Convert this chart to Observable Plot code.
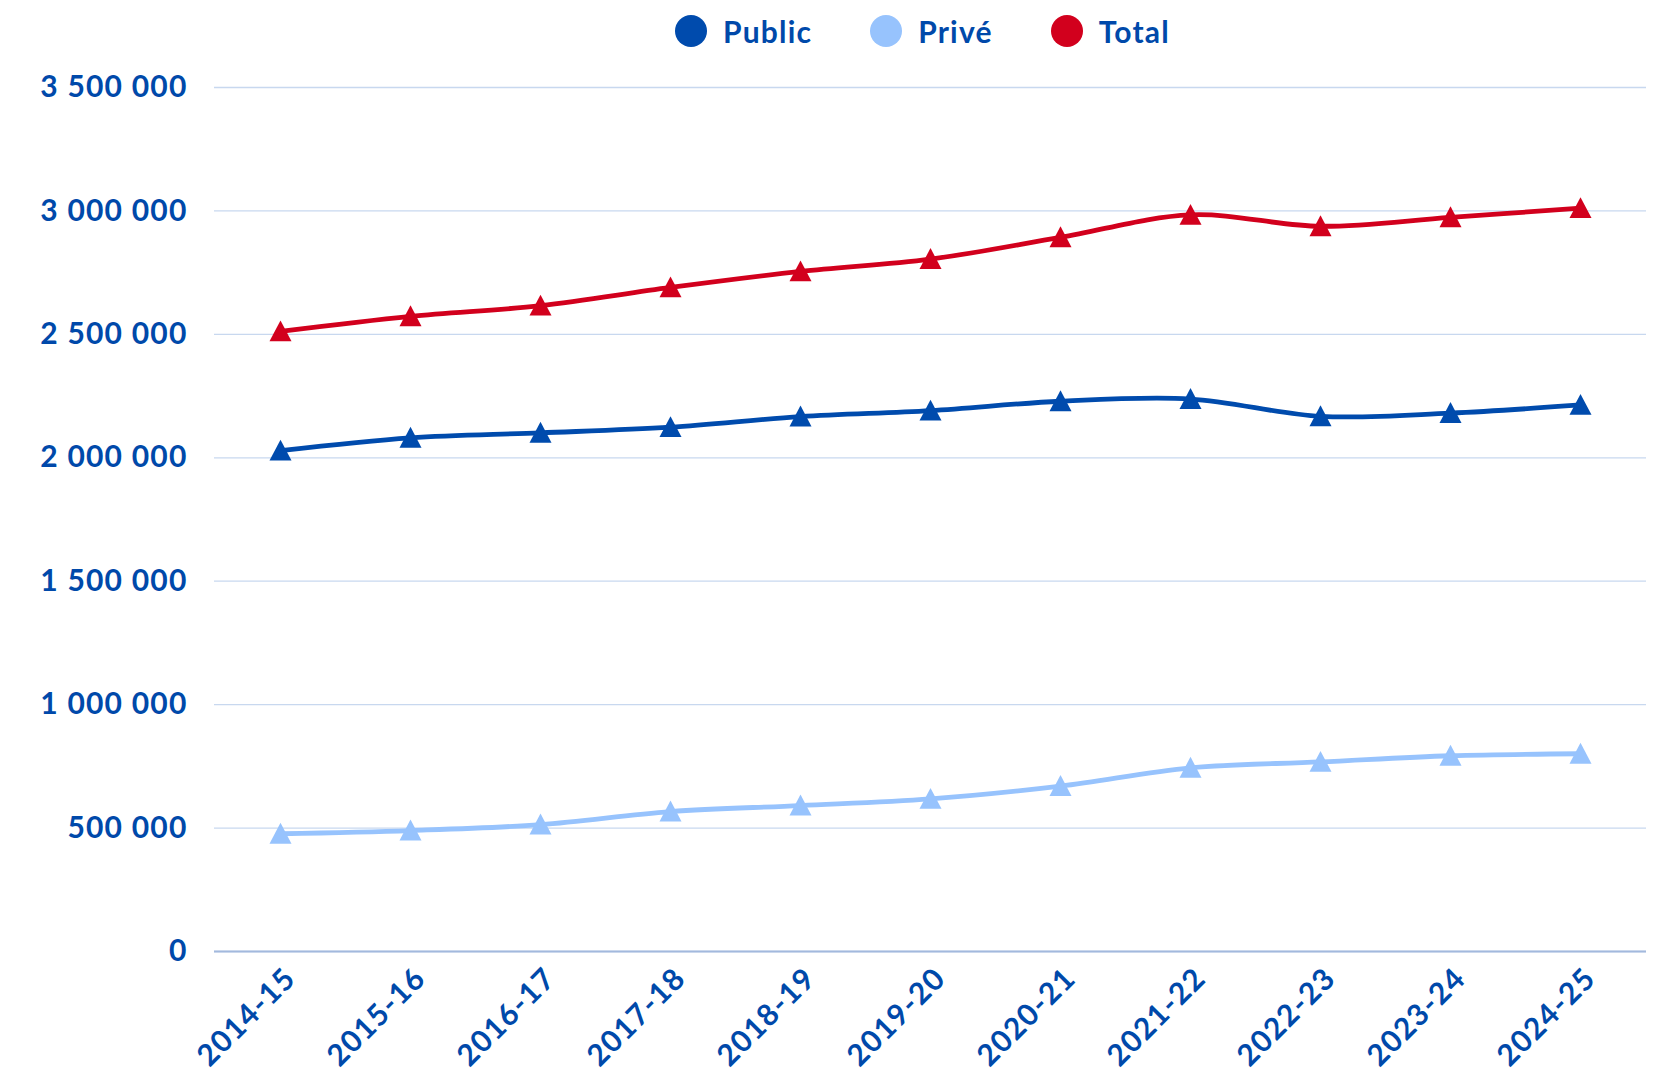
<!DOCTYPE html>
<html>
<head>
<meta charset="utf-8">
<script src="https://cdn.jsdelivr.net/npm/d3@7"></script>
<script src="https://cdn.jsdelivr.net/npm/@observablehq/plot@0.6"></script>
<style>
  html, body { margin: 0; padding: 0; background: #fff; }
  body { width: 1660px; height: 1073px; overflow: hidden; font-family: Lato, "Open Sans", sans-serif; }
  #legend { position: relative; height: 62px; }
  #legend .items { position: absolute; left: 675px; top: 0; height: 62px; display: flex; align-items: center; }
  #legend .item { display: flex; align-items: center; margin-right: 58px; }
  #legend .sw { width: 32px; height: 32px; border-radius: 50%; margin-right: 16px; }
  #legend .lab { font-size: 30px; font-weight: 700; color: #0049AA; letter-spacing: 1.2px; }
  #chart svg { display: block; }
  #chart svg text { letter-spacing: 1.2px; }
</style>
</head>
<body>
<div id="legend"><div class="items"></div></div>
<div id="chart"></div>
<script>
const years = ["2014-15","2015-16","2016-17","2017-18","2018-19","2019-20","2020-21","2021-22","2022-23","2023-24","2024-25"];
const publicValues = [2029000, 2081000, 2101000, 2124000, 2167000, 2191000, 2229000, 2238000, 2168000, 2181000, 2214000];
const priveValues  = [477000, 490000, 514000, 567000, 591000, 618000, 670000, 744000, 768000, 793000, 801000];
const totalValues  = [2512000, 2573000, 2616000, 2690000, 2755000, 2805000, 2893000, 2984000, 2938000, 2974000, 3011000];
const seriesNames = ["Public", "Privé", "Total"];
const seriesColors = ["#004BAD", "#97C3FD", "#D2001D"];
const yTicks = [0, 500000, 1000000, 1500000, 2000000, 2500000, 3000000, 3500000];

const seriesValues = [publicValues, priveValues, totalValues];
const data = [];
seriesNames.forEach((s, k) => years.forEach((y, i) => data.push({series: s, year: y, value: seriesValues[k][i]})));

const fr = d3.formatLocale({decimal: ",", thousands: " ", grouping: [3], currency: ["", " €"]});
const fmt = fr.format(",d");

const triangle = {
  draw(context, size) {
    const r = Math.sqrt(size / Math.PI);
    context.moveTo(0, -r);
    context.lineTo(r, r * 0.9);
    context.lineTo(-r, r * 0.9);
    context.closePath();
  }
};

// legend
const items = d3.select("#legend .items");
seriesNames.forEach((s, k) => {
  const it = items.append("div").attr("class", "item");
  it.append("div").attr("class", "sw").style("background", seriesColors[k]);
  it.append("div").attr("class", "lab").text(s);
});

const textColor = "#0049AA";
const chart = Plot.plot({
  width: 1660,
  height: 1011,
  marginTop: 25,
  marginBottom: 122,
  marginLeft: 214,
  marginRight: 14,
  style: {fontFamily: "Lato, 'Open Sans', sans-serif", fontSize: "30px", fontWeight: 700, color: textColor, background: "#fff"},
  x: {type: "point", domain: years, padding: 0.5, label: null},
  y: {domain: [0, 3500000], label: null},
  color: {domain: seriesNames, range: seriesColors},
  marks: [
    Plot.gridY(yTicks, {stroke: "#C8D8EF", strokeOpacity: 1, strokeWidth: 1.3}),
    Plot.ruleY([0], {stroke: "#A3B9DD", strokeWidth: 2}),
    Plot.axisY(yTicks, {tickSize: 0, tickPadding: 27, tickFormat: fmt, fill: textColor, fontSize: 30, fontWeight: 700, label: null}),
    Plot.axisX({tickSize: 0, tickPadding: 22, tickRotate: -45, fill: textColor, fontSize: 30, fontWeight: 700, label: null, dx: 10}),
    Plot.line(data, {x: "year", y: "value", z: "series", stroke: "series", strokeWidth: 4.8, curve: "catmull-rom"}),
    Plot.dot(data, {x: "year", y: "value", fill: "series", symbol: triangle, r: 11, stroke: null})
  ]
});
document.getElementById("chart").appendChild(chart);
</script>
</body>
</html>
